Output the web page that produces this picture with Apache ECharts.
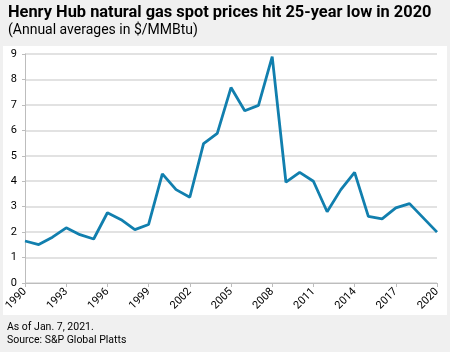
<!DOCTYPE html>
<html>
<head>
<meta charset="utf-8">
<script src="https://cdn.jsdelivr.net/npm/echarts@6/dist/echarts.min.js"></script>
<style>
  html, body { margin: 0; padding: 0; background: #f0f0f0; }
  #main { width: 450px; height: 352px; }
</style>
</head>
<body>
<div id="main"></div>
<script>
// annual averages, $/MMBtu
var years = [];
for (var y = 1990; y <= 2020; y++) years.push(String(y));
var prices = [
  1.65, 1.51, 1.80, 2.17, 1.90, 1.73, 2.76, 2.49, 2.10, 2.30,
  4.29, 3.67, 3.37, 5.48, 5.88, 7.68, 6.77, 6.98, 8.90, 3.96,
  4.35, 4.00, 2.80, 3.67, 4.35, 2.62, 2.52, 2.95, 3.12, 2.56,
  2.00
];

var titleText = "Henry Hub natural gas spot prices hit 25-year low in 2020";
var subText = "(Annual averages in $/MMBtu)";
var notes = ["As of Jan. 7, 2021.", "Source: S&P Global Platts"];

var myChart = echarts.init(document.getElementById("main"));

var option = {
  backgroundColor: "#f0f0f0",
  animation: false,
  textStyle: { fontFamily: "Roboto" },
  graphic: [
    // white panel behind the plot
    {
      type: "rect", left: 3, top: 46, z: -10,
      shape: { width: 444, height: 269 },
      style: { fill: "#ffffff" }
    },
    {
      type: "text", left: 8, top: 5,
      style: { text: titleText, font: "bold 16.4px Roboto", fill: "#000" }
    },
    {
      type: "text", left: 8, top: 23,
      style: { text: subText, font: "14px Roboto", fill: "#000" }
    },
    {
      type: "text", left: 7, top: 321,
      style: { text: notes.join("\n"), font: "10.5px Roboto", fill: "#000", lineHeight: 13 }
    }
  ],
  grid: { left: 25, right: 13, top: 54, bottom: 69 },
  xAxis: {
    type: "category",
    data: years,
    boundaryGap: false,
    axisLine: { lineStyle: { color: "#bdbdbd", width: 1 } },
    axisTick: { interval: 2, length: 4, lineStyle: { color: "#bdbdbd" } },
    axisLabel: { interval: 2, rotate: 45, color: "#000", fontSize: 11, margin: 7 }
  },
  yAxis: {
    type: "value",
    min: 0, max: 9, interval: 1,
    axisLine: { show: true, lineStyle: { color: "#bdbdbd", width: 1 } },
    axisTick: { show: true, length: 3, lineStyle: { color: "#bdbdbd" } },
    axisLabel: { color: "#000", fontSize: 11, margin: 8 },
    splitLine: { lineStyle: { color: "#d9d9d9", width: 1.5 } }
  },
  series: [{
    type: "line",
    data: prices,
    symbol: "none",
    lineStyle: { color: "#117fae", width: 2.8 }
  }]
};

myChart.setOption(option);
</script>
</body>
</html>
